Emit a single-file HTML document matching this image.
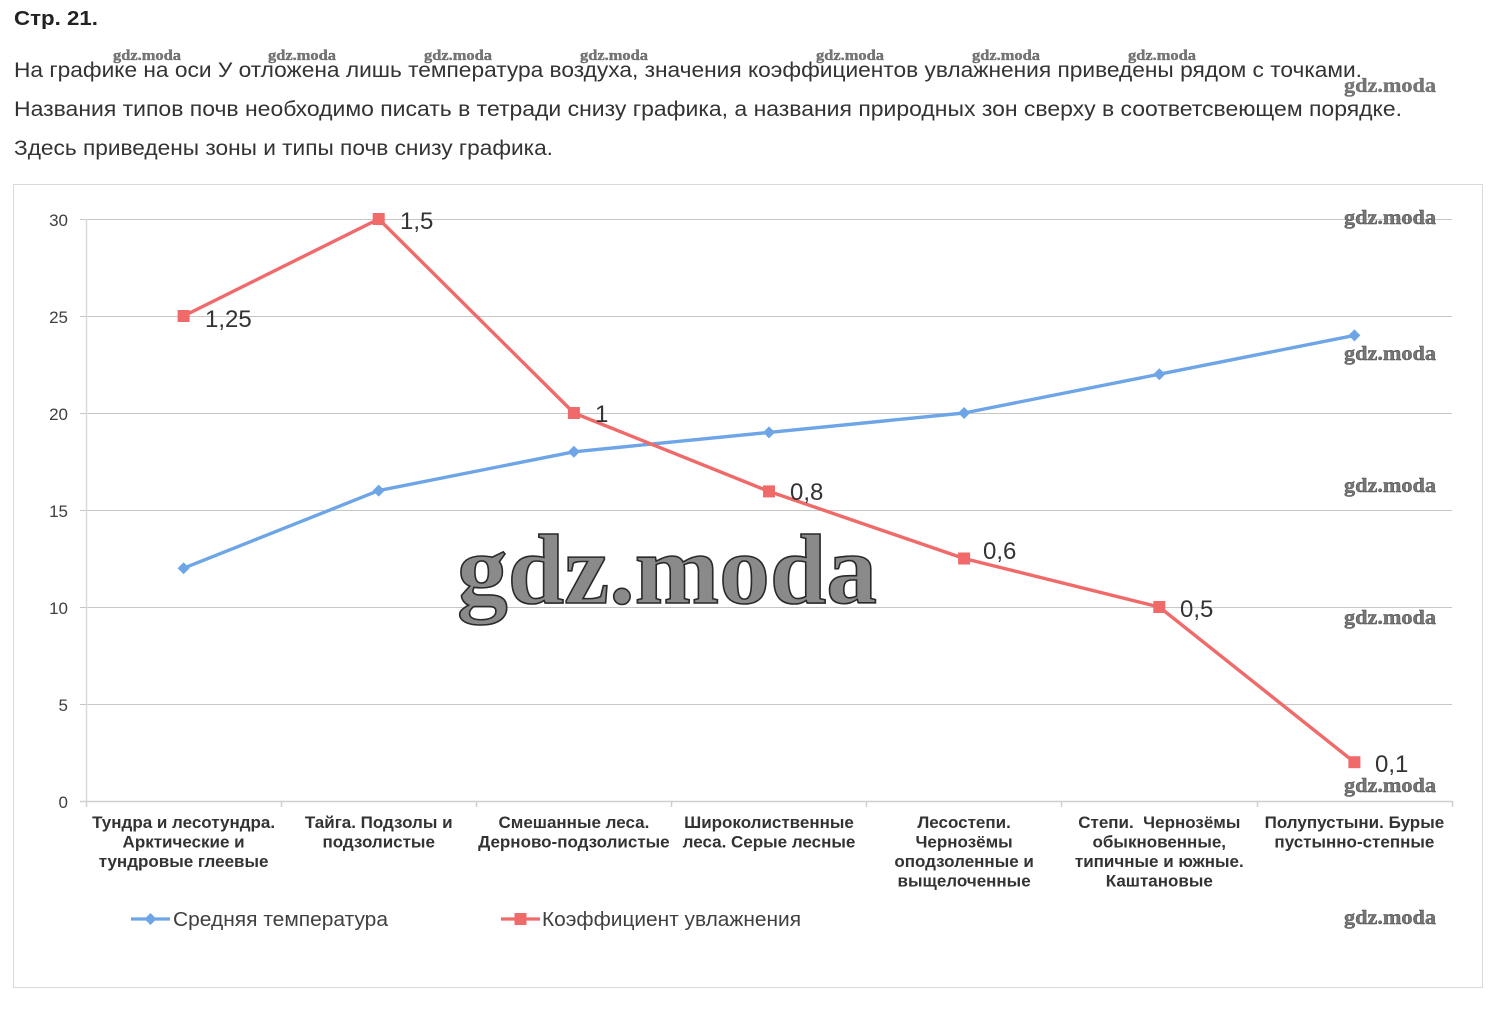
<!DOCTYPE html>
<html><head><meta charset="utf-8"><style>
html,body{margin:0;padding:0;background:#fff;}
svg{display:block;}
</style></head><body>
<svg width="1495" height="1035" viewBox="0 0 1495 1035" xmlns="http://www.w3.org/2000/svg">
<rect width="1495" height="1035" fill="#fff"/>
<g font-family="Liberation Sans, Arial, sans-serif">
<text x="14" y="25" font-size="20" font-weight="bold" fill="#222" textLength="84" lengthAdjust="spacingAndGlyphs">Стр. 21.</text>
<text x="14" y="77" font-size="21" fill="#333" textLength="1348" lengthAdjust="spacingAndGlyphs">На графике на оси У отложена лишь температура воздуха, значения коэффициентов увлажнения приведены рядом с точками.</text>
<text x="14" y="116" font-size="21" fill="#333" textLength="1388" lengthAdjust="spacingAndGlyphs">Названия типов почв необходимо писать в тетради снизу графика, а названия природных зон сверху в соответсвеющем порядке.</text>
<text x="14" y="155" font-size="21" fill="#333" textLength="539" lengthAdjust="spacingAndGlyphs">Здесь приведены зоны и типы почв снизу графика.</text>
</g>
<!-- small top watermarks -->
<g font-family="Liberation Serif, serif" font-weight="bold" font-size="15" fill="#777" stroke="#555" stroke-width="0.3">
<text x="113" y="60" textLength="68" lengthAdjust="spacingAndGlyphs">gdz.moda</text>
<text x="268" y="60" textLength="68" lengthAdjust="spacingAndGlyphs">gdz.moda</text>
<text x="424" y="60" textLength="68" lengthAdjust="spacingAndGlyphs">gdz.moda</text>
<text x="580" y="60" textLength="68" lengthAdjust="spacingAndGlyphs">gdz.moda</text>
<text x="816" y="60" textLength="68" lengthAdjust="spacingAndGlyphs">gdz.moda</text>
<text x="972" y="60" textLength="68" lengthAdjust="spacingAndGlyphs">gdz.moda</text>
<text x="1128" y="60" textLength="68" lengthAdjust="spacingAndGlyphs">gdz.moda</text>
<text x="1344" y="92" font-size="20" textLength="92" lengthAdjust="spacingAndGlyphs">gdz.moda</text>
</g>
<!-- chart frame -->
<rect x="13.5" y="184.5" width="1469" height="803" fill="none" stroke="#d9d9d9" stroke-width="1"/>
<!-- gridlines -->
<g stroke="#c6c6c6" stroke-width="1">
<line x1="80" y1="219.5" x2="1452" y2="219.5"/>
<line x1="80" y1="316.5" x2="1452" y2="316.5"/>
<line x1="80" y1="413.5" x2="1452" y2="413.5"/>
<line x1="80" y1="510.5" x2="1452" y2="510.5"/>
<line x1="80" y1="607.5" x2="1452" y2="607.5"/>
<line x1="80" y1="704.5" x2="1452" y2="704.5"/>
</g>
<line x1="86.5" y1="219" x2="86.5" y2="801" stroke="#d9d9d9" stroke-width="1.5"/>
<line x1="80" y1="801.5" x2="1452" y2="801.5" stroke="#cfcfcf" stroke-width="1.5"/>
<g stroke="#cfcfcf" stroke-width="1.5">
<line x1="86.5" y1="801" x2="86.5" y2="807"/>
<line x1="281.5" y1="801" x2="281.5" y2="807"/>
<line x1="476.5" y1="801" x2="476.5" y2="807"/>
<line x1="671.5" y1="801" x2="671.5" y2="807"/>
<line x1="866.5" y1="801" x2="866.5" y2="807"/>
<line x1="1061.5" y1="801" x2="1061.5" y2="807"/>
<line x1="1257.5" y1="801" x2="1257.5" y2="807"/>
<line x1="1452.5" y1="801" x2="1452.5" y2="807"/>
</g>
<!-- y labels -->
<g font-family="Liberation Sans, Arial, sans-serif" font-size="17" fill="#404040" text-anchor="end">
<text x="68" y="226">30</text>
<text x="68" y="323">25</text>
<text x="68" y="420">20</text>
<text x="68" y="517">15</text>
<text x="68" y="614">10</text>
<text x="68" y="711">5</text>
<text x="68" y="808">0</text>
</g>
<!-- big watermark -->
<text x="457" y="603" font-family="Liberation Serif, serif" font-weight="bold" font-size="100" fill="#8a8a8a" stroke="#2a2a2a" stroke-width="1.6" textLength="420" lengthAdjust="spacingAndGlyphs">gdz.moda</text>
<!-- blue series -->
<polyline points="183.6,568.2 378.7,490.6 573.9,451.8 769,432.4 964.1,413 1159.3,374.2 1354.4,335.4" fill="none" stroke="#6ea5e6" stroke-width="3.4" stroke-linejoin="round"/>
<g fill="#6ea5e6">
<polygon points="183.6,562.2 189.6,568.2 183.6,574.2 177.6,568.2"/>
<polygon points="378.7,484.6 384.7,490.6 378.7,496.6 372.7,490.6"/>
<polygon points="573.9,445.8 579.9,451.8 573.9,457.8 567.9,451.8"/>
<polygon points="769,426.4 775,432.4 769,438.4 763,432.4"/>
<polygon points="964.1,407 970.1,413 964.1,419 958.1,413"/>
<polygon points="1159.3,368.2 1165.3,374.2 1159.3,380.2 1153.3,374.2"/>
<polygon points="1354.4,329.4 1360.4,335.4 1354.4,341.4 1348.4,335.4"/>
</g>
<!-- red series -->
<polyline points="183.6,316 378.7,219 573.9,413 769,491.4 964.1,558.5 1159.3,607 1354.4,762.2" fill="none" stroke="#f06a6a" stroke-width="3.4" stroke-linejoin="round"/>
<g fill="#f06a6a">
<rect x="177.6" y="310" width="12" height="12"/>
<rect x="372.7" y="213" width="12" height="12"/>
<rect x="567.9" y="407" width="12" height="12"/>
<rect x="763" y="485.4" width="12" height="12"/>
<rect x="958.1" y="552.5" width="12" height="12"/>
<rect x="1153.3" y="601" width="12" height="12"/>
<rect x="1348.4" y="756.2" width="12" height="12"/>
</g>
<!-- data labels -->
<g font-family="Liberation Sans, Arial, sans-serif" font-size="24" fill="#333">
<text x="205" y="327">1,25</text>
<text x="400" y="229">1,5</text>
<text x="595" y="422">1</text>
<text x="790" y="500">0,8</text>
<text x="983" y="559">0,6</text>
<text x="1180" y="617">0,5</text>
<text x="1375" y="772">0,1</text>
</g>
<!-- category labels -->
<g font-family="Liberation Sans, Arial, sans-serif" font-size="17" font-weight="bold" fill="#333" text-anchor="middle">
<text x="183.6" y="828">Тундра и лесотундра.</text>
<text x="183.6" y="847.5">Арктические и</text>
<text x="183.6" y="867">тундровые глеевые</text>
<text x="378.7" y="828">Тайга. Подзолы и</text>
<text x="378.7" y="847.5">подзолистые</text>
<text x="573.9" y="828">Смешанные леса.</text>
<text x="573.9" y="847.5">Дерново-подзолистые</text>
<text x="769" y="828">Широколиственные</text>
<text x="769" y="847.5">леса. Серые лесные</text>
<text x="964.1" y="828">Лесостепи.</text>
<text x="964.1" y="847.5">Чернозёмы</text>
<text x="964.1" y="867">оподзоленные и</text>
<text x="964.1" y="886.5">выщелоченные</text>
<text x="1159.3" y="828" xml:space="preserve">Степи.  Чернозёмы</text>
<text x="1159.3" y="847.5">обыкновенные,</text>
<text x="1159.3" y="867">типичные и южные.</text>
<text x="1159.3" y="886.5">Каштановые</text>
<text x="1354.4" y="828">Полупустыни. Бурые</text>
<text x="1354.4" y="847.5">пустынно-степные</text>
</g>
<!-- legend -->
<line x1="131" y1="919" x2="170" y2="919" stroke="#6ea5e6" stroke-width="3.2"/>
<polygon points="150.5,913 156.5,919 150.5,925 144.5,919" fill="#6ea5e6"/>
<text x="173" y="926" font-family="Liberation Sans, Arial, sans-serif" font-size="20" fill="#404040" textLength="215" lengthAdjust="spacingAndGlyphs">Средняя температура</text>
<line x1="501" y1="919" x2="540" y2="919" stroke="#f06a6a" stroke-width="3.2"/>
<rect x="514.5" y="913" width="12" height="12" fill="#f06a6a"/>
<text x="542" y="926" font-family="Liberation Sans, Arial, sans-serif" font-size="20" fill="#404040" textLength="259" lengthAdjust="spacingAndGlyphs">Коэффициент увлажнения</text>
<!-- right watermarks -->
<g font-family="Liberation Serif, serif" font-weight="bold" font-size="20" fill="#777" stroke="#444" stroke-width="0.4">
<text x="1344" y="224" textLength="92" lengthAdjust="spacingAndGlyphs">gdz.moda</text>
<text x="1344" y="360" textLength="92" lengthAdjust="spacingAndGlyphs">gdz.moda</text>
<text x="1344" y="492" textLength="92" lengthAdjust="spacingAndGlyphs">gdz.moda</text>
<text x="1344" y="624" textLength="92" lengthAdjust="spacingAndGlyphs">gdz.moda</text>
<text x="1344" y="792" textLength="92" lengthAdjust="spacingAndGlyphs">gdz.moda</text>
<text x="1344" y="924" textLength="92" lengthAdjust="spacingAndGlyphs">gdz.moda</text>
</g>
</svg>
</body></html>
